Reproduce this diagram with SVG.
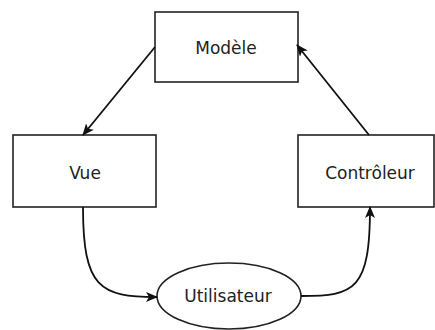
<svg xmlns="http://www.w3.org/2000/svg" width="435" height="330" viewBox="0 0 435 330">
<style>
.box{fill:#fff;stroke:#222;stroke-width:1.6}
.lbl{font-family:"DejaVu Sans",Verdana,sans-serif;font-size:17px;fill:#222;text-anchor:middle}
.edge{fill:none;stroke:#111;stroke-width:1.8}
</style>
<defs>
<marker id="arr" viewBox="0 0 12 10" refX="11" refY="5" markerWidth="12" markerHeight="10" markerUnits="userSpaceOnUse" orient="auto">
<path d="M0,0 L12,5 L0,10 L3,5 z" fill="#111"/>
</marker>
</defs>
<rect width="435" height="330" fill="#fff"/>
<g id="modele"><rect class="box" x="155" y="12" width="143" height="70"/><text class="lbl" x="226" y="54">Modèle</text></g>
<g id="vue"><rect class="box" x="13" y="135" width="143" height="72"/><text class="lbl" x="85" y="179">Vue</text></g>
<g id="controleur"><rect class="box" x="298" y="135" width="136" height="72"/><text class="lbl" x="370" y="179">Contrôleur</text></g>
<g id="utilisateur"><ellipse class="box" cx="229" cy="296" rx="72" ry="33"/><text class="lbl" x="228" y="302">Utilisateur</text></g>
<g id="connectors">
<path class="edge" d="M155,47 L83,135" marker-end="url(#arr)"/>
<path class="edge" d="M369,135 L297,45" marker-end="url(#arr)"/>
<path class="edge" d="M83,207 C83,288 100,297 157,297" marker-end="url(#arr)"/>
<path class="edge" d="M301,296 C355,296 370,290 370,207" marker-end="url(#arr)"/>
</g>
</svg>
